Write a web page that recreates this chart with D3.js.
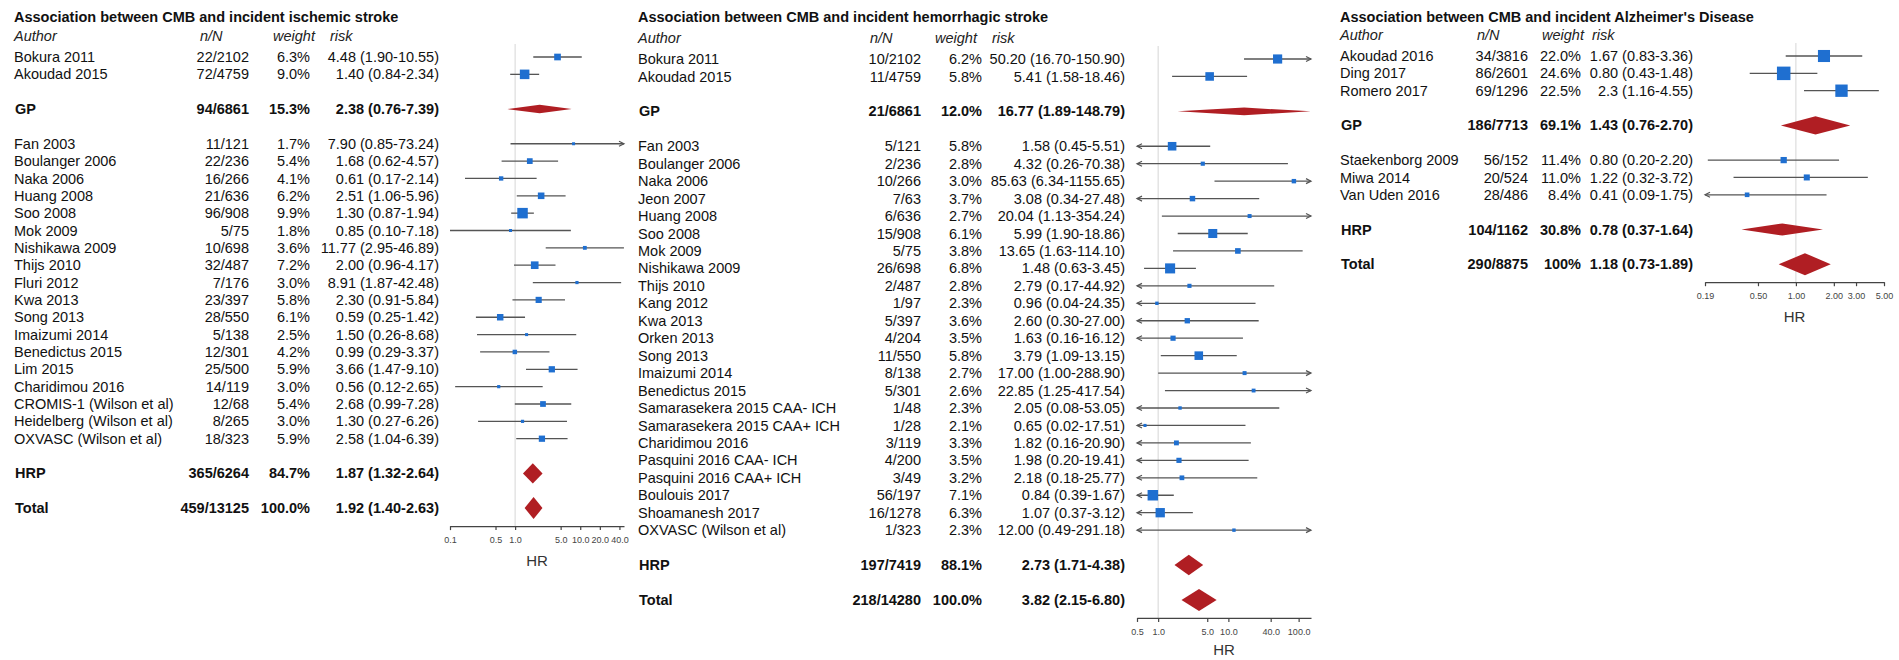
<!DOCTYPE html>
<html>
<head>
<meta charset="utf-8">
<script src="https://cdn.jsdelivr.net/npm/d3@7"></script>
<style>
  body { margin: 0; background: #fff; }
  svg { display: block; font-family: "Liberation Sans", Arial, sans-serif; }
</style>
</head>
<body>
<svg id="chart"></svg>
<script>
// ---------- data: ischemic stroke ----------
const ischTitle = "Association between CMB and incident ischemic stroke";
const ischAuthors = ["Bokura 2011", "Akoudad 2015",
  "Fan 2003", "Boulanger 2006", "Naka 2006", "Huang 2008", "Soo 2008", "Mok 2009",
  "Nishikawa 2009", "Thijs 2010", "Fluri 2012", "Kwa 2013", "Song 2013", "Imaizumi 2014",
  "Benedictus 2015", "Lim 2015", "Charidimou 2016", "CROMIS-1 (Wilson et al)",
  "Heidelberg (Wilson et al)", "OXVASC (Wilson et al)"];
const ischNN = ["22/2102", "72/4759", "11/121", "22/236", "16/266", "21/636", "96/908", "5/75",
  "10/698", "32/487", "7/176", "23/397", "28/550", "5/138", "12/301", "25/500", "14/119",
  "12/68", "8/265", "18/323"];
const ischWeight = ["6.3%", "9.0%", "1.7%", "5.4%", "4.1%", "6.2%", "9.9%", "1.8%", "3.6%", "7.2%",
  "3.0%", "5.8%", "6.1%", "2.5%", "4.2%", "5.9%", "3.0%", "5.4%", "3.0%", "5.9%"];
const ischHR = ["4.48", "1.40", "7.90", "1.68", "0.61", "2.51", "1.30", "0.85", "11.77", "2.00",
  "8.91", "2.30", "0.59", "1.50", "0.99", "3.66", "0.56", "2.68", "1.30", "2.58"];
const ischLo = ["1.90", "0.84", "0.85", "0.62", "0.17", "1.06", "0.87", "0.10", "2.95", "0.96",
  "1.87", "0.91", "0.25", "0.26", "0.29", "1.47", "0.12", "0.99", "0.27", "1.04"];
const ischHi = ["10.55", "2.34", "73.24", "4.57", "2.14", "5.96", "1.94", "7.18", "46.89", "4.17",
  "42.48", "5.84", "1.42", "8.68", "3.37", "9.10", "2.65", "7.28", "6.26", "6.39"];
const ischGroups = [2, 18];
const ischSumLabels = ["GP", "HRP", "Total"];
const ischSumNN = ["94/6861", "365/6264", "459/13125"];
const ischSumWeight = ["15.3%", "84.7%", "100.0%"];
const ischSumHR = ["2.38", "1.87", "1.92"];
const ischSumLo = ["0.76", "1.32", "1.40"];
const ischSumHi = ["7.39", "2.64", "2.63"];
const ischTicks = [0.1, 0.5, 1, 5, 10, 20, 40];

// ---------- data: hemorrhagic stroke ----------
const hemTitle = "Association between CMB and incident hemorrhagic stroke";
const hemAuthors = ["Bokura 2011", "Akoudad 2015",
  "Fan 2003", "Boulanger 2006", "Naka 2006", "Jeon 2007", "Huang 2008", "Soo 2008", "Mok 2009",
  "Nishikawa 2009", "Thijs 2010", "Kang 2012", "Kwa 2013", "Orken 2013", "Song 2013",
  "Imaizumi 2014", "Benedictus 2015", "Samarasekera 2015 CAA- ICH", "Samarasekera 2015 CAA+ ICH",
  "Charidimou 2016", "Pasquini 2016 CAA- ICH", "Pasquini 2016 CAA+ ICH", "Boulouis 2017",
  "Shoamanesh 2017", "OXVASC (Wilson et al)"];
const hemNN = ["10/2102", "11/4759", "5/121", "2/236", "10/266", "7/63", "6/636", "15/908", "5/75",
  "26/698", "2/487", "1/97", "5/397", "4/204", "11/550", "8/138", "5/301", "1/48", "1/28",
  "3/119", "4/200", "3/49", "56/197", "16/1278", "1/323"];
const hemWeight = ["6.2%", "5.8%", "5.8%", "2.8%", "3.0%", "3.7%", "2.7%", "6.1%", "3.8%", "6.8%",
  "2.8%", "2.3%", "3.6%", "3.5%", "5.8%", "2.7%", "2.6%", "2.3%", "2.1%", "3.3%", "3.5%", "3.2%",
  "7.1%", "6.3%", "2.3%"];
const hemHR = ["50.20", "5.41", "1.58", "4.32", "85.63", "3.08", "20.04", "5.99", "13.65", "1.48",
  "2.79", "0.96", "2.60", "1.63", "3.79", "17.00", "22.85", "2.05", "0.65", "1.82", "1.98", "2.18",
  "0.84", "1.07", "12.00"];
const hemLo = ["16.70", "1.58", "0.45", "0.26", "6.34", "0.34", "1.13", "1.90", "1.63", "0.63",
  "0.17", "0.04", "0.30", "0.16", "1.09", "1.00", "1.25", "0.08", "0.02", "0.16", "0.20", "0.18",
  "0.39", "0.37", "0.49"];
const hemHi = ["150.90", "18.46", "5.51", "70.38", "1155.65", "27.48", "354.24", "18.86", "114.10",
  "3.45", "44.92", "24.35", "27.00", "16.12", "13.15", "288.90", "417.54", "53.05", "17.51",
  "20.90", "19.41", "25.77", "1.67", "3.12", "291.18"];
const hemGroups = [2, 23];
const hemSumLabels = ["GP", "HRP", "Total"];
const hemSumNN = ["21/6861", "197/7419", "218/14280"];
const hemSumWeight = ["12.0%", "88.1%", "100.0%"];
const hemSumHR = ["16.77", "2.73", "3.82"];
const hemSumLo = ["1.89", "1.71", "2.15"];
const hemSumHi = ["148.79", "4.38", "6.80"];
const hemTicks = [0.5, 1, 5, 10, 40, 100];

// ---------- data: Alzheimer's disease ----------
const adTitle = "Association between CMB and incident Alzheimer's Disease";
const adAuthors = ["Akoudad 2016", "Ding 2017", "Romero 2017",
  "Staekenborg 2009", "Miwa 2014", "Van Uden 2016"];
const adNN = ["34/3816", "86/2601", "69/1296", "56/152", "20/524", "28/486"];
const adWeight = ["22.0%", "24.6%", "22.5%", "11.4%", "11.0%", "8.4%"];
const adHR = ["1.67", "0.80", "2.3", "0.80", "1.22", "0.41"];
const adLo = ["0.83", "0.43", "1.16", "0.20", "0.32", "0.09"];
const adHi = ["3.36", "1.48", "4.55", "2.20", "3.72", "1.75"];
const adGroups = [3, 3];
const adSumLabels = ["GP", "HRP", "Total"];
const adSumNN = ["186/7713", "104/1162", "290/8875"];
const adSumWeight = ["69.1%", "30.8%", "100%"];
const adSumHR = ["1.43", "0.78", "1.18"];
const adSumLo = ["0.76", "0.37", "0.73"];
const adSumHi = ["2.70", "1.64", "1.89"];
const adTicks = [0.19, 0.5, 1, 2, 3, 5];

// ---------- layout ----------
const width = 1899, height = 660;
const FONT = 14.5;

const svg = d3.select("#chart")
  .attr("width", width)
  .attr("height", height);

const panels = [
  {
    title: ischTitle, authors: ischAuthors, nn: ischNN, w: ischWeight, hr: ischHR, lo: ischLo, hi: ischHi,
    groups: ischGroups, sumLabels: ischSumLabels, sumNN: ischSumNN, sumW: ischSumWeight,
    sumHR: ischSumHR, sumLo: ischSumLo, sumHi: ischSumHi, ticks: ischTicks,
    x0: 14, nnHdr: 200, wHdr: 273, riskHdr: 330, nnR: 249, wR: 310, riskR: 439,
    axisX: [450, 624], domain: [0.1, 47], fmt: d3.format(".1f"),
    firstY: 57, row: 17.35, axisGap: 18, hrGap: 35, boxMax: 10.5
  },
  {
    title: hemTitle, authors: hemAuthors, nn: hemNN, w: hemWeight, hr: hemHR, lo: hemLo, hi: hemHi,
    groups: hemGroups, sumLabels: hemSumLabels, sumNN: hemSumNN, sumW: hemSumWeight,
    sumHR: hemSumHR, sumLo: hemSumLo, sumHi: hemSumHi, ticks: hemTicks,
    x0: 638, nnHdr: 870, wHdr: 935, riskHdr: 992, nnR: 921, wR: 982, riskR: 1125,
    axisX: [1137, 1311], domain: [0.5, 150], fmt: d3.format(".1f"),
    firstY: 59, row: 17.45, axisGap: 18, hrGap: 32, boxMax: 10.5
  },
  {
    title: adTitle, authors: adAuthors, nn: adNN, w: adWeight, hr: adHR, lo: adLo, hi: adHi,
    groups: adGroups, sumLabels: adSumLabels, sumNN: adSumNN, sumW: adSumWeight,
    sumHR: adSumHR, sumLo: adSumLo, sumHi: adSumHi, ticks: adTicks,
    x0: 1340, nnHdr: 1477, wHdr: 1542, riskHdr: 1592, nnR: 1528, wR: 1581, riskR: 1693,
    axisX: [1705, 1884], domain: [0.19, 5], fmt: d3.format(".2f"),
    firstY: 56, row: 17.35, axisGap: 18, hrGap: 35, boxMax: 13.5
  }
];

const diamondH = d3.scaleSqrt().domain([0, 100]).range([0, 22]);

function drawPanel(p) {
  const g = svg.append("g");
  const x = d3.scaleLog().domain(p.domain).range(p.axisX);
  const y = r => p.firstY + (r - 2) * p.row;

  // rows: studies of each group, blank, group summary, blank ... total
  const rows = [];
  let r = 2, k = 0;
  p.groups.forEach((n, gi) => {
    for (let i = 0; i < n; i++) rows.push({ type: "study", i: k++, r: r++ });
    r += 1;
    rows.push({ type: "sum", i: gi, r: r });
    r += 2;
  });
  rows.push({ type: "sum", i: p.groups.length, r: r });
  const axisY = y(r) + p.axisGap;
  const headerY = p.firstY - 21;

  const boxSize = d3.scaleLinear()
    .domain([0, d3.max(p.w, d => parseFloat(d))])
    .range([0, p.boxMax]);

  // title + header
  g.append("text")
    .attr("x", p.x0).attr("y", 17).attr("dy", "0.35em")
    .attr("font-size", FONT).attr("font-weight", "bold").attr("fill", "#111")
    .text(p.title);

  const hdr = [["Author", p.x0], ["n/N", p.nnHdr], ["weight", p.wHdr], ["risk", p.riskHdr]];
  g.selectAll("text.hdr").data(hdr).join("text")
    .attr("class", "hdr")
    .attr("x", d => d[1]).attr("y", headerY).attr("dy", "0.35em")
    .attr("font-size", FONT).attr("font-style", "italic").attr("fill", "#222")
    .text(d => d[0]);

  // null line
  g.append("line")
    .attr("x1", x(1)).attr("x2", x(1))
    .attr("y1", headerY + 8).attr("y2", axisY)
    .attr("stroke", "#d6d6d6").attr("stroke-width", 1);

  // text columns
  rows.forEach(row => {
    const isSum = row.type === "sum";
    const i = row.i;
    const cells = isSum
      ? [p.sumLabels[i], p.sumNN[i], p.sumW[i], `${p.sumHR[i]} (${p.sumLo[i]}-${p.sumHi[i]})`]
      : [p.authors[i], p.nn[i], p.w[i], `${p.hr[i]} (${p.lo[i]}-${p.hi[i]})`];
    const xs = [p.x0 + (isSum ? 1 : 0), p.nnR, p.wR, p.riskR];
    const anchors = ["start", "end", "end", "end"];
    cells.forEach((c, ci) => {
      g.append("text")
        .attr("x", xs[ci]).attr("y", y(row.r)).attr("dy", "0.35em")
        .attr("text-anchor", anchors[ci])
        .attr("font-size", FONT)
        .attr("font-weight", isSum ? "bold" : "normal")
        .attr("fill", "#111")
        .text(c);
    });
  });

  const [dMin, dMax] = p.domain;

  // study CI lines, arrows and boxes
  rows.filter(d => d.type === "study").forEach(row => {
    const i = row.i;
    const yy = y(row.r);
    const lo = +p.lo[i], hi = +p.hi[i], hr = +p.hr[i];
    const xl = x(Math.max(lo, dMin)), xh = x(Math.min(hi, dMax));
    g.append("line")
      .attr("x1", xl).attr("x2", xh).attr("y1", yy).attr("y2", yy)
      .attr("stroke", "#555").attr("stroke-width", 1.3);
    if (lo < dMin) {
      g.append("path")
        .attr("d", `M${xl + 5},${yy - 2.5}L${xl},${yy}L${xl + 5},${yy + 2.5}`)
        .attr("fill", "none").attr("stroke", "#555").attr("stroke-width", 1.2);
    }
    if (hi > dMax) {
      g.append("path")
        .attr("d", `M${xh - 5},${yy - 2.5}L${xh},${yy}L${xh - 5},${yy + 2.5}`)
        .attr("fill", "none").attr("stroke", "#555").attr("stroke-width", 1.2);
    }
    const s = Math.max(3, boxSize(parseFloat(p.w[i])));
    g.append("rect")
      .attr("x", x(hr) - s / 2).attr("y", yy - s / 2)
      .attr("width", s).attr("height", s)
      .attr("fill", "#1f6fd0");
  });

  // summary diamonds
  rows.filter(d => d.type === "sum").forEach(row => {
    const i = row.i;
    const yy = y(row.r);
    const h = diamondH(parseFloat(p.sumW[i])) / 2;
    const lo = x(+p.sumLo[i]), hi = x(+p.sumHi[i]), m = x(+p.sumHR[i]);
    g.append("path")
      .attr("d", `M${lo},${yy}L${m},${yy - h}L${hi},${yy}L${m},${yy + h}Z`)
      .attr("fill", "#b01e23");
  });

  // axis
  const axis = d3.axisBottom(x)
    .tickValues(p.ticks)
    .tickFormat(p.fmt)
    .tickSize(4)
    .tickSizeOuter(0);
  const ag = g.append("g")
    .attr("transform", `translate(0,${axisY})`)
    .call(axis);
  ag.select(".domain").attr("stroke", "#444").attr("stroke-width", 1.2);
  ag.selectAll(".tick line").attr("stroke", "#444").attr("stroke-width", 1.2);
  ag.selectAll(".tick text")
    .attr("font-family", "Liberation Sans, Arial, sans-serif")
    .attr("font-size", 9).attr("fill", "#444").attr("dy", "1.1em");

  g.append("text")
    .attr("x", (p.axisX[0] + p.axisX[1]) / 2).attr("y", axisY + p.hrGap)
    .attr("dy", "0.35em").attr("text-anchor", "middle")
    .attr("font-size", 15).attr("fill", "#333")
    .text("HR");
}

panels.forEach(drawPanel);
</script>
</body>
</html>
